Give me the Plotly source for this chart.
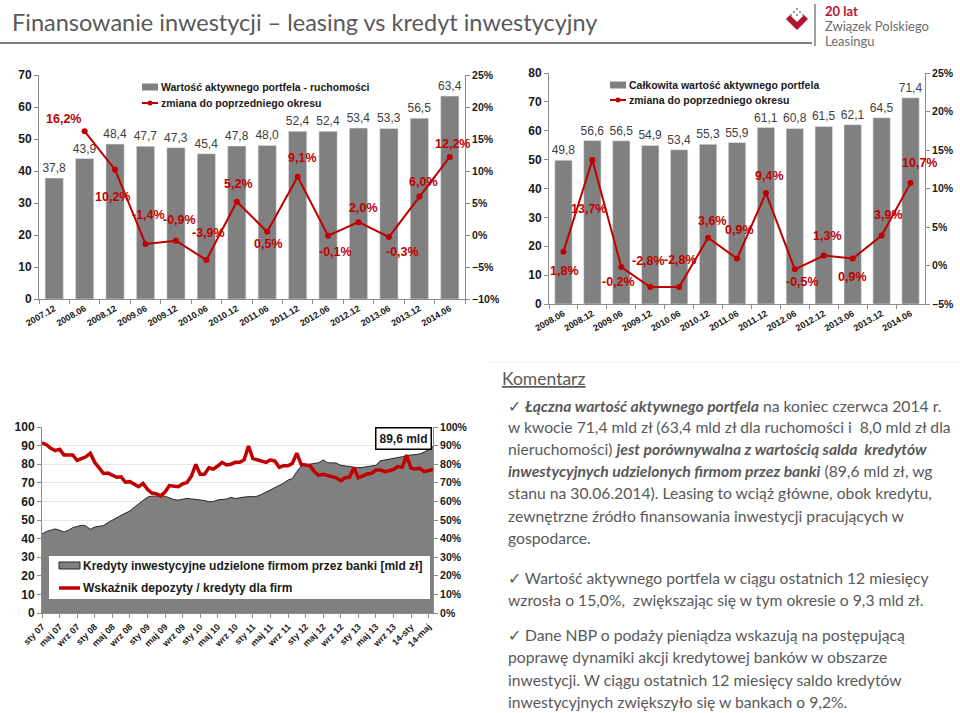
import plotly.graph_objects as go

W, H = 960, 713

# ---------------- DATA ----------------
tl_categories = ["2007.12", "2008.06", "2008.12", "2009.06", "2009.12", "2010.06", "2010.12",
                 "2011.06", "2011.12", "2012.06", "2012.12", "2013.06", "2013.12", "2014.06"]
tl_values = [37.8, 43.9, 48.4, 47.7, 47.3, 45.4, 47.8, 48.0, 52.4, 52.4, 53.4, 53.3, 56.5, 63.4]
tl_change = [16.2, 10.2, -1.4, -0.9, -3.9, 5.2, 0.5, 9.1, -0.1, 2.0, -0.3, 6.0, 12.2]

tr_categories = ["2008.06", "2008.12", "2009.06", "2009.12", "2010.06", "2010.12", "2011.06",
                 "2011.12", "2012.06", "2012.12", "2013.06", "2013.12", "2014.06"]
tr_values = [49.8, 56.6, 56.5, 54.9, 53.4, 55.3, 55.9, 61.1, 60.8, 61.5, 62.1, 64.5, 71.4]
tr_change = [1.8, 13.7, -0.2, -2.8, -2.8, 3.6, 0.9, 9.4, -0.5, 1.3, 0.9, 3.9, 10.7]

# monthly, Jan 2007 .. Jun 2014
bl_credits = [42.5, 43.8, 44.5, 45.2, 44.5, 43.5, 44.5, 45.9, 46.5, 47.2, 46.8, 45.0,
              46.2, 46.7, 47.0, 48.6, 50.0, 51.3, 52.5, 53.7, 54.8, 56.8, 58.5, 60.5,
              62.3, 62.8, 63.0, 63.0, 62.8, 61.8, 61.0, 60.7, 61.2, 61.6, 61.3, 61.0,
              60.9, 60.5, 59.8, 59.9, 60.8, 60.9, 61.3, 62.2, 61.5, 62.0, 62.5, 62.6,
              62.5, 62.8, 63.8, 65.0, 66.5, 67.5, 68.5, 69.8, 71.5, 72.3, 76.0, 79.0,
              79.6, 80.1, 80.4, 80.8, 82.3, 80.8, 80.7, 80.6, 79.4, 79.0, 79.0, 78.6,
              78.1, 78.3, 78.6, 78.9, 79.4, 81.8, 82.2, 82.8, 83.2, 83.6, 84.0, 84.6,
              85.0, 85.2, 85.5, 86.5, 87.8, 89.6]
bl_ratio = [91.5, 90.5, 88.5, 87.3, 88.0, 85.0, 85.0, 85.0, 82.0, 83.0, 84.0, 85.9,
            81.0, 78.0, 75.0, 75.2, 74.0, 73.0, 73.2, 70.3, 70.6, 69.0, 67.9, 69.7,
            66.5, 64.5, 64.2, 63.0, 65.0, 68.5, 68.3, 67.9, 69.4, 70.1, 73.5, 79.9,
            74.6, 74.6, 78.1, 77.4, 79.0, 81.0, 79.6, 80.0, 81.0, 81.0, 82.3, 89.8,
            83.0, 82.3, 82.0, 81.0, 82.3, 81.7, 78.3, 79.2, 79.2, 80.5, 85.9, 79.9,
            79.6, 79.2, 76.0, 74.0, 74.6, 74.0, 73.7, 72.7, 71.1, 72.7, 73.0, 78.1,
            72.7, 73.7, 74.7, 75.1, 76.9, 76.9, 76.0, 76.5, 77.2, 78.7, 78.3, 84.9,
            77.8, 77.4, 77.8, 76.0, 76.5, 77.2]
bl_ticktext = ["sty 07", "maj 07", "wrz 07", "sty 08", "maj 08", "wrz 08", "sty 09", "maj 09",
               "wrz 09", "sty 10", "maj 10", "wrz 10", "sty 11", "maj 11", "wrz 11", "sty 12",
               "maj 12", "wrz 12", "sty 13", "maj 13", "wrz 13", "14-sty", "14-maj"]

# ---------------- STYLE ----------------
BAR = "#808080"
RED = "#C00000"
DARK = "#1a1a1a"
TXT = "#595959"
ARIAL = "Liberation Sans, Arial, sans-serif"
CAL = "Lato, Carlito, Calibri, sans-serif"


def px(x):
    return x / W


def py(y):
    return 1 - y / H


def fmt(v, pct=False):
    s = f"{v:.1f}".replace(".", ",")
    return s + "%" if pct else s


fig = go.Figure()

bar_font = dict(family=ARIAL, size=12, color="#404040")
# ---- top-left chart ----
fig.add_trace(go.Bar(x=tl_categories, y=tl_values, xaxis="x", yaxis="y", marker_color=BAR,
                     width=0.6, text=[fmt(v) for v in tl_values], textposition="outside",
                     textfont=bar_font, constraintext="none", cliponaxis=False,
                     showlegend=False))
fig.add_trace(go.Scatter(x=tl_categories[1:], y=tl_change, xaxis="x", yaxis="y2",
                         mode="lines+markers", line=dict(color=RED, width=2),
                         marker=dict(size=6, color=RED), showlegend=False, cliponaxis=False))

# ---- top-right chart ----
fig.add_trace(go.Bar(x=tr_categories, y=tr_values, xaxis="x2", yaxis="y3", marker_color=BAR,
                     width=0.6, text=[fmt(v) for v in tr_values], textposition="outside",
                     textfont=bar_font, constraintext="none", cliponaxis=False,
                     showlegend=False))
fig.add_trace(go.Scatter(x=tr_categories, y=tr_change, xaxis="x2", yaxis="y4",
                         mode="lines+markers", line=dict(color=RED, width=2),
                         marker=dict(size=6, color=RED), showlegend=False, cliponaxis=False))

# ---- bottom-left chart ----
months = list(range(len(bl_credits)))
fig.add_trace(go.Scatter(x=months, y=bl_credits, xaxis="x3", yaxis="y5", mode="lines",
                         fill="tozeroy", fillcolor=BAR, line=dict(color="#262626", width=1),
                         showlegend=False))
fig.add_trace(go.Scatter(x=months, y=bl_ratio, xaxis="x3", yaxis="y6", mode="lines",
                         line=dict(color=RED, width=3.5), showlegend=False))

axis_common = dict(showgrid=False, zeroline=False, showline=True, linecolor="#8c8c8c",
                   linewidth=1, ticks="outside", ticklen=4, tickcolor="#8c8c8c", automargin=False)
tickfont_y = dict(family=ARIAL, size=12, color=DARK, weight="bold")
tickfont_y2 = dict(family=ARIAL, size=10.5, color=DARK, weight="bold")
tickfont_x = dict(family=ARIAL, size=9, color=DARK, weight="bold")

fig.update_layout(
    width=W, height=H, margin=dict(l=0, r=0, t=0, b=0, autoexpand=False),
    paper_bgcolor="white", plot_bgcolor="rgba(0,0,0,0)",
    # top-left
    xaxis=dict(domain=[px(39), px(465)], anchor="y", type="category", tickson="boundaries",
               range=[-0.5, len(tl_categories) - 0.5],
               tickangle=-30, tickfont=tickfont_x, **axis_common),
    yaxis=dict(domain=[py(299), py(75)], anchor="x", range=[0, 70], dtick=10,
               tickfont=tickfont_y, **axis_common),
    yaxis2=dict(overlaying="y", side="right", anchor="x", range=[-10, 25], dtick=5,
                ticksuffix="%", tickfont=tickfont_y2, **axis_common),
    # top-right
    xaxis2=dict(domain=[px(549), px(925)], anchor="y3", type="category", tickson="boundaries",
                range=[-0.5, len(tr_categories) - 0.5],
                tickangle=-30, tickfont=tickfont_x, **axis_common),
    yaxis3=dict(domain=[py(304), py(73)], anchor="x2", range=[0, 80], dtick=10,
                tickfont=tickfont_y, **axis_common),
    yaxis4=dict(overlaying="y3", side="right", anchor="x2", range=[-5, 25], dtick=5,
                ticksuffix="%", tickfont=tickfont_y2, **axis_common),
    # bottom-left
    xaxis3=dict(domain=[px(42), px(433)], anchor="y5", range=[0, len(months) - 1],
                tickvals=list(range(0, len(months), 4))[:len(bl_ticktext)], ticktext=bl_ticktext,
                tickangle=-45, tickfont=tickfont_x, **axis_common),
    yaxis5=dict(domain=[py(613), py(427)], anchor="x3", range=[0, 100], dtick=10,
                tickfont=tickfont_y, **{**axis_common, "showgrid": True, "gridcolor": "#e6e6e6"}),
    yaxis6=dict(overlaying="y5", side="right", anchor="x3", range=[0, 100], dtick=10,
                ticksuffix="%", tickfont=tickfont_y2, **axis_common),
)

ann = []
shapes = []

pct_font = dict(family=ARIAL, size=12.5, color=RED, weight="bold")
# percentage labels, top-left (x given as category index)
tl_shift = [(-21, 12), (-3, -27), (3, 29), (4, 21), (2, 27), (2, 18), (1, -12), (5, 19),
            (7, -16), (5, 14), (14, -15), (4, 15), (3, 13)]
for k, (v, (dx, dy)) in enumerate(zip(tl_change, tl_shift), start=1):
    ann.append(dict(x=k, y=v, xref="x", yref="y2", xshift=dx, yshift=dy, text=fmt(v, True),
                    showarrow=False, font=pct_font))

tr_shift = [(1, -19), (-4, -49), (-3, -15), (-2, 26), (1, 27), (4, 17), (2, 29), (4, 17),
            (8, -13), (4, 19), (0, -18), (7, 20), (9, 20)]
for k, (v, (dx, dy)) in enumerate(zip(tr_change, tr_shift)):
    ann.append(dict(x=k, y=v, xref="x2", yref="y4", xshift=dx, yshift=dy, text=fmt(v, True),
                    showarrow=False, font=pct_font))


def text(x, y, s, size, color=DARK, family=ARIAL, bold=False, anchor="left"):
    f = dict(family=family, size=size, color=color)
    if bold:
        f["weight"] = "bold"
    ann.append(dict(x=px(x), y=py(y), xref="paper", yref="paper", text=s, showarrow=False,
                    xanchor=anchor, yanchor="middle", font=f))


# legends of top charts
def legend(x0, y_bar, y_line, label_bar, label_line):
    shapes.append(dict(type="rect", xref="paper", yref="paper", x0=px(x0), x1=px(x0 + 16),
                       y0=py(y_bar + 3.5), y1=py(y_bar - 3.5), fillcolor=BAR, line_width=0))
    shapes.append(dict(type="line", xref="paper", yref="paper", x0=px(x0), x1=px(x0 + 16),
                       y0=py(y_line), y1=py(y_line), line=dict(color=RED, width=2)))
    shapes.append(dict(type="circle", xref="paper", yref="paper", x0=px(x0 + 5.5), x1=px(x0 + 10.5),
                       y0=py(y_line + 2.5), y1=py(y_line - 2.5), fillcolor=RED, line_width=0))
    text(x0 + 17, y_bar, label_bar, 10.5, bold=True)
    text(x0 + 17, y_line, label_line, 10.5, bold=True)


legend(142, 87, 103, "Wartość aktywnego portfela - ruchomości", "zmiana do poprzedniego okresu")
legend(610, 85, 100, "Całkowita wartość aktywnego portfela", "zmiana do poprzedniego okresu")

# bottom chart legend box
shapes.append(dict(type="rect", xref="paper", yref="paper", x0=px(49), x1=px(430),
                   y0=py(599), y1=py(556), fillcolor="white", line_width=0, layer="above"))
shapes.append(dict(type="rect", xref="paper", yref="paper", x0=px(59), x1=px(80),
                   y0=py(569), y1=py(562), fillcolor=BAR, line=dict(color="#262626", width=1),
                   layer="above"))
shapes.append(dict(type="line", xref="paper", yref="paper", x0=px(59), x1=px(80),
                   y0=py(588), y1=py(588), line=dict(color=RED, width=3.5), layer="above"))
text(81, 566, "Kredyty inwestycyjne udzielone firmom przez banki [mld zł]", 12, bold=True)
text(81, 588, "Wskaźnik depozyty / kredyty dla firm", 12, bold=True)
ann.append(dict(x=px(403), y=py(439), xref="paper", yref="paper", text="89,6 mld",
                showarrow=False, bgcolor="white", bordercolor="#000", borderwidth=1.5, borderpad=3,
                font=dict(family=ARIAL, size=12, color=DARK, weight="bold")))

# header
text(10, 22, "Finansowanie inwestycji – leasing vs kredyt inwestycyjny", 23.5, color=TXT, family=CAL)
shapes.append(dict(type="line", xref="paper", yref="paper", x0=0, x1=px(812), y0=py(43), y1=py(43),
                   line=dict(color="#7f7f7f", width=2)))
shapes.append(dict(type="line", xref="paper", yref="paper", x0=px(490), x1=1, y0=py(362), y1=py(362),
                   line=dict(color="#eeeeee", width=1)))
# logo
shapes.append(dict(type="path", xref="paper", yref="paper",
                   path=f"M {px(786)},{py(19)} L {px(797)},{py(30)} L {px(808)},{py(19)} "
                        f"L {px(804)},{py(15)} L {px(797)},{py(22)} L {px(790)},{py(15)} Z",
                   fillcolor="#b3142d", line_width=0))
for (cx, cy) in [(797, 9), (800, 12), (794, 12), (803, 15), (797, 15), (791, 15)]:
    shapes.append(dict(type="rect", xref="paper", yref="paper", x0=px(cx - 1), x1=px(cx + 1),
                       y0=py(cy + 1), y1=py(cy - 1), fillcolor="#9a9a9a", line_width=0))
shapes.append(dict(type="line", xref="paper", yref="paper", x0=px(815), x1=px(815), y0=py(4), y1=py(46),
                   line=dict(color="#7f7f7f", width=1.5)))
text(823, 11, "<b>20 lat</b>", 13, color="#b3142d", family=CAL)
text(823, 26, "Związek Polskiego", 13, color="#6d6d6d", family=CAL)
text(823, 41, "Leasingu", 13, color="#6d6d6d", family=CAL)

# commentary
text(500, 378, "<u>Komentarz</u>", 17.5, color=TXT, family=CAL)
lines = [
    (406, "✓ <b><i>Łączna wartość aktywnego portfela</i></b> na koniec czerwca 2014 r."),
    (427, "w kwocie 71,4 mld zł (63,4 mld zł dla ruchomości i  8,0 mld zł dla"),
    (449, "nieruchomości) <b><i>jest porównywalna z wartością salda  kredytów</i></b>"),
    (471, "<b><i>inwestycyjnych udzielonych firmom przez banki</i></b> (89,6 mld zł, wg"),
    (493, "stanu na 30.06.2014). Leasing to wciąż główne, obok kredytu,"),
    (516, "zewnętrzne źródło finansowania inwestycji pracujących w"),
    (538, "gospodarce."),
    (578, "✓ Wartość aktywnego portfela w ciągu ostatnich 12 miesięcy"),
    (600, "wzrosła o 15,0%,  zwiększając się w tym okresie o 9,3 mld zł."),
    (635, "✓ Dane NBP o podaży pieniądza wskazują na postępującą"),
    (657, "poprawę dynamiki akcji kredytowej banków w obszarze"),
    (680, "inwestycji. W ciągu ostatnich 12 miesięcy saldo kredytów"),
    (702, "inwestycyjnych zwiększyło się w bankach o 9,2%."),
]
for y, s in lines:
    text(506, y, s, 15.7, color=TXT, family=CAL)

fig.update_layout(annotations=ann, shapes=shapes)
fig.write_html("out.html", config={"displayModeBar": False},
               post_script="document.body.style.margin='0';")
